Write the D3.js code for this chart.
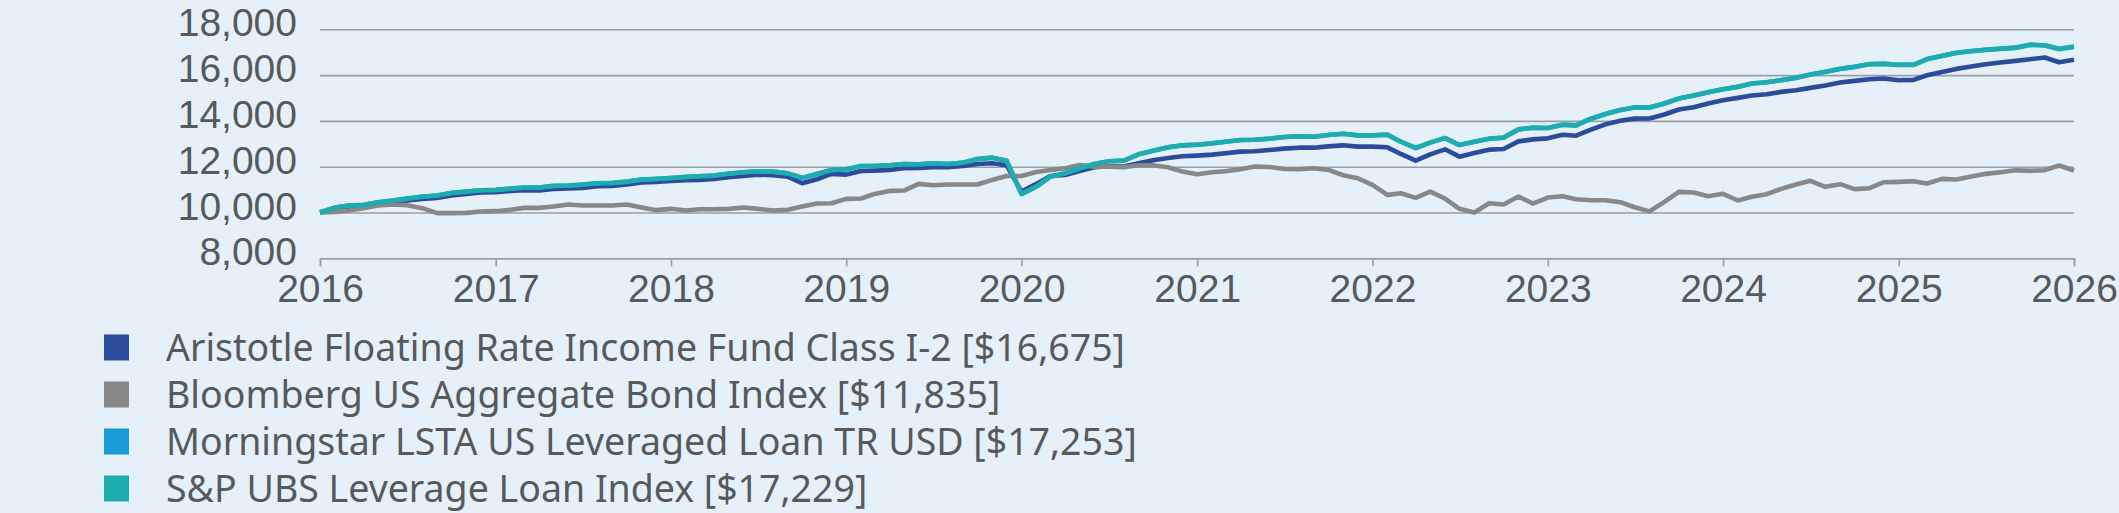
<!DOCTYPE html>
<html>
<head>
<meta charset="utf-8">
<script src="https://cdn.jsdelivr.net/npm/d3@7"></script>
<style>
  html, body { margin: 0; padding: 0; background: #e6f0f9; }
  svg { display: block; }
  .tick-label { font-family: "Liberation Sans", Arial, sans-serif; fill: #58595b; }
  .legend-label { font-family: "Noto Sans", sans-serif; fill: #58595b; }
</style>
</head>
<body>
<script>
const W = 2119, H = 513;
const margin = {top: 29, right: 45, bottom: 255, left: 320};

// ---- data: growth of $10,000, monthly Jan 2016 .. Jan 2026 ----
const seriesNames = [
  "Aristotle Floating Rate Income Fund Class I-2 [$16,675]",
  "Bloomberg US Aggregate Bond Index [$11,835]",
  "Morningstar LSTA US Leveraged Loan TR USD [$17,253]",
  "S&P UBS Leverage Loan Index [$17,229]"
];
const seriesColors = ["#2b4c9c", "#888888", "#1a9ad6", "#1eadae"];

const aristotle = [
  10000,10145,10232,10290,10407,10450,10523,10595,10639,10741,10813,10871,
  10886,10944,10973,10958,11031,11045,11074,11147,11162,11220,11307,11336,
  11379,11408,11423,11467,11539,11597,11655,11626,11568,11278,11452,11684,
  11655,11815,11830,11859,11931,11946,11975,11975,12033,12120,12149,12062,
  10915,11249,11597,11641,11815,11975,12018,12004,12149,12280,12381,12454,
  12483,12526,12585,12657,12672,12730,12788,12831,12831,12889,12933,12875,
  12875,12846,12556,12265,12541,12759,12439,12599,12744,12773,13107,13194,
  13238,13398,13354,13615,13848,14008,14100,14103,14278,14496,14598,14758,
  14903,15005,15107,15165,15267,15340,15442,15544,15675,15747,15820,15849,
  15776,15791,15995,16140,16271,16373,16475,16548,16620,16693,16766,16562,
  16675
];
const bloomberg = [
  10000,10029,10087,10189,10305,10348,10319,10189,9971,9971,9985,10044,
  10058,10116,10203,10203,10261,10348,10305,10305,10305,10348,10218,10102,
  10160,10087,10145,10145,10160,10218,10160,10087,10116,10261,10392,10407,
  10595,10610,10813,10944,10958,11249,11191,11220,11220,11220,11423,11597,
  11597,11771,11859,11931,12076,12004,12004,11975,12062,12062,11975,11786,
  11670,11757,11800,11888,12004,11989,11902,11888,11931,11859,11626,11496,
  11205,10770,10842,10639,10915,10610,10160,10000,10407,10348,10697,10392,
  10653,10711,10581,10537,10537,10450,10230,10050,10466,10902,10873,10713,
  10815,10524,10684,10800,11033,11222,11382,11120,11237,11019,11062,11324,
  11339,11368,11266,11470,11440,11571,11688,11761,11848,11819,11848,12052,
  11835
];
const morningstar = [
  10000,10215,10300,10330,10445,10520,10605,10690,10740,10850,10910,10970,
  10985,11040,11085,11085,11160,11175,11215,11275,11290,11345,11435,11465,
  11505,11550,11580,11610,11695,11755,11800,11785,11710,11505,11680,11855,
  11885,12030,12030,12060,12115,12105,12145,12120,12175,12335,12395,12265,
  10800,11130,11565,11710,11930,12120,12235,12265,12540,12700,12845,12930,
  12960,13020,13090,13165,13180,13225,13295,13325,13310,13385,13440,13370,
  13370,13400,13090,12810,13050,13250,12945,13090,13225,13270,13630,13705,
  13690,13835,13805,14095,14300,14475,14590,14585,14760,14980,15110,15255,
  15385,15490,15635,15690,15780,15880,16025,16145,16275,16360,16480,16495,
  16450,16450,16700,16845,16975,17050,17110,17155,17200,17330,17305,17150,
  17253
];
const spubs = [
  10000,10218,10305,10334,10450,10523,10610,10697,10741,10857,10915,10973,
  10987,11045,11089,11089,11162,11176,11220,11278,11292,11350,11437,11467,
  11510,11554,11583,11612,11699,11757,11800,11786,11713,11510,11684,11859,
  11888,12033,12033,12062,12120,12105,12149,12120,12178,12338,12396,12265,
  10813,11133,11568,11713,11931,12120,12236,12265,12541,12701,12846,12933,
  12962,13020,13093,13165,13180,13223,13296,13325,13311,13383,13441,13369,
  13369,13398,13093,12817,13049,13252,12948,13093,13223,13267,13630,13703,
  13688,13833,13804,14095,14298,14472,14585,14583,14758,14976,15107,15253,
  15384,15485,15631,15689,15776,15878,16023,16140,16271,16358,16475,16489,
  16446,16446,16693,16839,16969,17042,17100,17144,17188,17319,17290,17130,
  17229
];
const seriesValues = [aristotle, bloomberg, morningstar, spubs];

const yTicks = [8000, 10000, 12000, 14000, 16000, 18000];
const xTickYears = [2016, 2017, 2018, 2019, 2020, 2021, 2022, 2023, 2024, 2025, 2026];

const months = d3.timeMonth.range(new Date(2016, 0, 1), new Date(2026, 1, 1));

// ---- svg ----
const svg = d3.select("body").append("svg")
    .attr("width", W)
    .attr("height", H);

svg.append("rect").attr("width", W).attr("height", H).attr("fill", "#e6f0f9");

const x = d3.scaleTime()
    .domain([new Date(2016, 0, 1), new Date(2026, 0, 1)])
    .range([margin.left, W - margin.right]);

const y = d3.scaleLinear()
    .domain([8000, 18000])
    .range([258.3, 29.3]);

// gridlines + y labels
const yAxis = svg.append("g")
    .attr("transform", "translate(" + margin.left + ",0)")
    .call(d3.axisLeft(y)
        .tickValues(yTicks)
        .tickSize(-(W - margin.right - margin.left))
        .tickPadding(23)
        .tickFormat(d3.format(",")));
yAxis.select(".domain").remove();
yAxis.selectAll(".tick line")
    .attr("stroke", "#9b9ea3")
    .attr("stroke-width", 1.6);
yAxis.selectAll(".tick text")
    .attr("class", "tick-label")
    .attr("fill", "#58595b")
    .attr("dy", "0.17em")
    .style("font-size", "39px");

// x axis
const xAxis = svg.append("g")
    .attr("transform", "translate(0," + y(8000) + ")")
    .call(d3.axisBottom(x)
        .tickValues(xTickYears.map(yr => new Date(yr, 0, 1)))
        .tickSize(8)
        .tickPadding(8)
        .tickFormat(d3.timeFormat("%Y")));
xAxis.select(".domain")
    .attr("stroke", "#9b9ea3")
    .attr("stroke-width", 1.6);
xAxis.selectAll(".tick line")
    .attr("stroke", "#9b9ea3")
    .attr("stroke-width", 1.6);
xAxis.selectAll(".tick text")
    .attr("class", "tick-label")
    .attr("fill", "#58595b")
    .style("font-size", "39px");

// lines
const line = d3.line()
    .x((d, i) => x(months[i]))
    .y(d => y(d));

svg.append("g")
    .selectAll("path")
    .data(seriesValues)
    .join("path")
        .attr("d", line)
        .attr("fill", "none")
        .attr("stroke", (d, i) => seriesColors[i])
        .attr("stroke-width", 4.6)
        .attr("stroke-linejoin", "round");

// legend
const legend = svg.append("g")
    .selectAll("g")
    .data(seriesNames)
    .join("g")
        .attr("transform", (d, i) => "translate(104," + (347.5 + i * 47) + ")");

legend.append("rect")
    .attr("x", 0)
    .attr("y", -13)
    .attr("width", 25)
    .attr("height", 26)
    .attr("fill", (d, i) => seriesColors[i]);

legend.append("text")
    .attr("class", "legend-label")
    .attr("x", 62)
    .attr("dy", "0.36em")
    .style("font-size", "37.5px")
    .text(d => d);
</script>
</body>
</html>
